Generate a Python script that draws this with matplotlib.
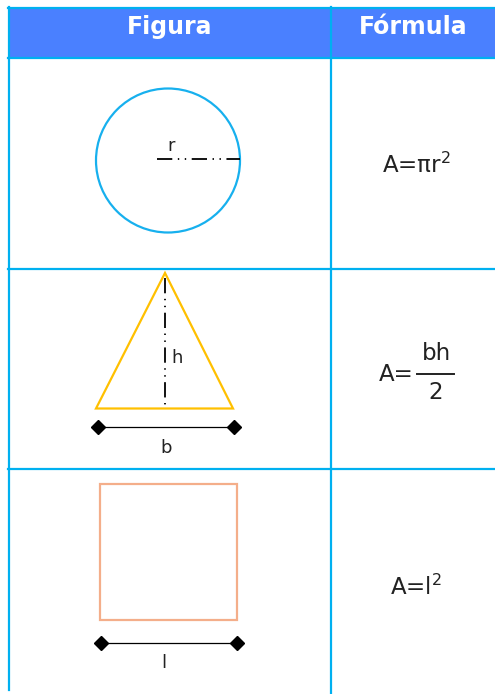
import numpy as np
import matplotlib
matplotlib.use("Agg")
import matplotlib.pyplot as plt
from matplotlib.patches import Circle, Polygon, Rectangle

plt.rcParams['font.family'] = ['DejaVu Sans']
plt.rcParams['lines.scale_dashes'] = False

# table text
headers = ["Figura", "Fórmula"]
shape_labels = ["r", "h", "b", "l"]
formulas = ["A=πr$^2$", "A=", "A=l$^2$"]
frac_parts = ["bh", "2"]

# table grid (pixel units)
col_edges = [9, 331, 495]
row_edges = [8, 58, 268.5, 469, 694]

border = "#00b0f0"
head_fill = "#4a80ff"
ink = "#222222"

fig = plt.figure(figsize=(4.95, 6.94), dpi=100)
ax = fig.add_axes([0, 0, 1, 1])
ax.set_xlim(0, 495)
ax.set_ylim(694, 0)
ax.axis("off")

# header
ax.add_patch(Rectangle((col_edges[0], row_edges[0]), col_edges[2] - col_edges[0],
                       row_edges[1] - row_edges[0], color=head_fill, lw=0))
for i, h in enumerate(headers):
    cx = (col_edges[i] + col_edges[i + 1]) / 2
    ax.text(cx, 27, h, color="white", fontsize=17, fontweight="bold",
            ha="center", va="center")

# grid lines
for y in row_edges[:-1]:
    ax.plot([col_edges[0] - 1, col_edges[2]], [y, y], color=border, lw=1.6)
ax.plot([col_edges[0], col_edges[0]], [row_edges[0] - 1, 690], color=border, lw=1.6)
ax.plot([col_edges[1], col_edges[1]], [row_edges[0] - 1, 694], color=border, lw=1.6)

dashdotdot = (0, (11, 4, 1, 4, 1, 4))

# circle
ax.add_patch(Circle((168, 160.5), 72, fill=False, ec="#17b0ee", lw=1.6))
ax.plot([157, 240], [159, 159], color="black", lw=1.3, linestyle=dashdotdot)
ax.text(171, 146, shape_labels[0], fontsize=13, color=ink, ha="center", va="center")

# triangle
ax.add_patch(Polygon([[96, 408.5], [165, 273], [233, 408.5]], closed=True,
                     fill=False, ec="#ffc000", lw=1.6))
ax.plot([165, 165], [278, 408], color="black", lw=1.3, linestyle=dashdotdot)
ax.text(177, 358, shape_labels[1], fontsize=13, color=ink, ha="center", va="center")
ax.plot([98, 234], [427, 427], color="black", lw=0.9, marker="D", markersize=7)
ax.text(166, 448, shape_labels[2], fontsize=13, color=ink, ha="center", va="center")

# square
ax.add_patch(Rectangle((100, 484), 137, 136, fill=False, ec="#f4ae8a", lw=1.6))
ax.plot([101, 237], [643, 643], color="black", lw=0.9, marker="D", markersize=7)
ax.text(164, 663, shape_labels[3], fontsize=13, color=ink, ha="center", va="center")

# formulas
ax.text(416, 165, formulas[0], fontsize=16.5, color=ink, ha="center", va="center")
ax.text(396, 374, formulas[1], fontsize=16.5, color=ink, ha="center", va="center")
ax.text(436, 353, frac_parts[0], fontsize=16.5, color=ink, ha="center", va="center")
ax.plot([417, 454], [374, 374], color=ink, lw=1.4)
ax.text(436, 392, frac_parts[1], fontsize=16.5, color=ink, ha="center", va="center")
ax.text(416, 587, formulas[2], fontsize=16.5, color=ink, ha="center", va="center")

fig.savefig("out.png", dpi=100)
